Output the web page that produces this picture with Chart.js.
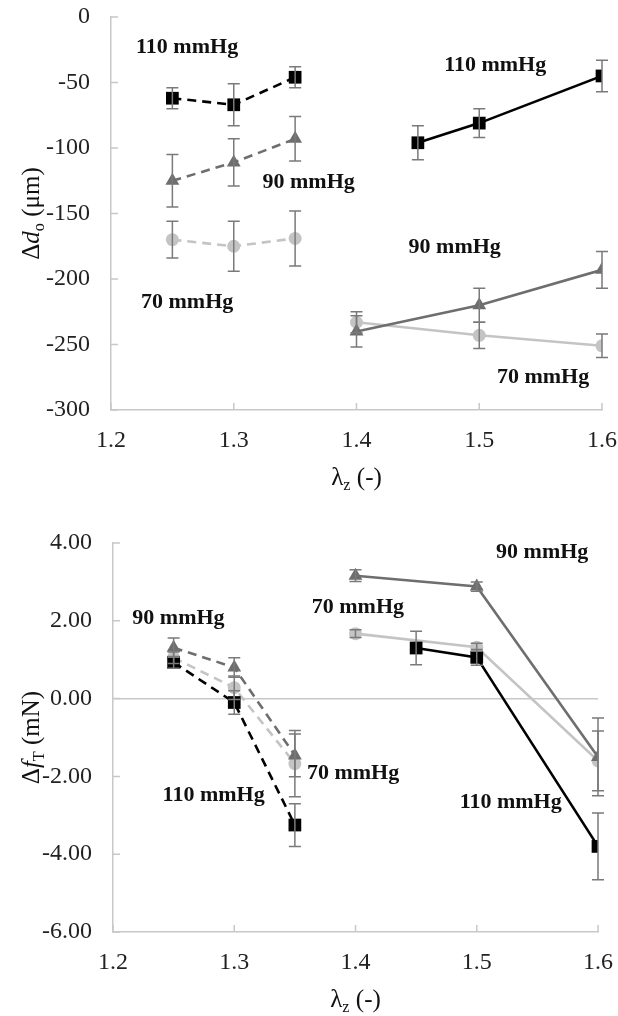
<!DOCTYPE html>
<html>
<head>
<meta charset="utf-8">
<script src="https://cdn.jsdelivr.net/npm/chart.js@4/dist/chart.umd.min.js"></script>
<style>
  body { margin: 0; background: #fff; }
  #wrap { position: relative; width: 618px; height: 1016px; }
  .box { position: absolute; left: 0; width: 618px; height: 508px; }
</style>
</head>
<body>
<div id="wrap">
  <div class="box" style="top:0"><canvas id="topChart" width="618" height="508"></canvas></div>
  <div class="box" style="top:508px"><canvas id="bottomChart" width="618" height="508"></canvas></div>
</div>
<script>
// lambda_z values
const lamDash = [1.25, 1.3, 1.35];
const lamSolid = [1.4, 1.5, 1.6];
const lamSolid110 = [1.45, 1.5, 1.6];

// top panel: change in outer diameter (µm), mean and error
const dd110Dash = [-62, -67, -46];   const dd110DashErr = [8, 16, 8];
const dd90Dash  = [-125, -111, -93]; const dd90DashErr  = [20, 18, 17];
const dd70Dash  = [-170, -175, -169]; const dd70DashErr = [14, 19, 21];
const dd110Solid = [-96, -81, -45];  const dd110SolidErr = [13, 11, 12];
const dd90Solid  = [-240, -220, -193]; const dd90SolidErr = [12, 13, 14];
const dd70Solid  = [-233, -243, -251]; const dd70SolidErr = [8, 10, 9];

// bottom panel: change in transducer force (mN)
const ft110Dash = [0.93, -0.1, -3.25]; const ft110DashErr = [0.15, 0.3, 0.55];
const ft90Dash  = [1.31, 0.8, -1.46];  const ft90DashErr  = [0.25, 0.25, 0.55];
const ft70Dash  = [1.05, 0.28, -1.67]; const ft70DashErr  = [0.15, 0.3, 0.85];
const ft110Solid = [1.3, 1.06, -3.8];  const ft110SolidErr = [0.43, 0.2, 0.86];
const ft90Solid  = [3.16, 2.88, -1.5]; const ft90SolidErr  = [0.15, 0.12, 1.0];
const ft70Solid  = [1.67, 1.32, -1.6]; const ft70SolidErr  = [0.1, 0.1, 0.77];

// pressure notes
const topNoteText = ['110 mmHg', '110 mmHg', '90 mmHg', '90 mmHg', '70 mmHg', '70 mmHg'];
const topNoteX = [1.262, 1.513, 1.361, 1.480, 1.262, 1.552];
const topNoteY = [-23, -37, -126, -176, -218, -275];
const botNoteText = ['90 mmHg', '90 mmHg', '70 mmHg', '70 mmHg', '110 mmHg', '110 mmHg'];
const botNoteX = [1.554, 1.254, 1.402, 1.398, 1.283, 1.528];
const botNoteY = [3.75, 2.06, 2.34, -1.93, -2.49, -2.67];

const SERIF = '"Liberation Serif", "Times New Roman", serif';
const C110 = '#000000', C90 = '#6e6e6e', C70 = '#c4c4c4', AXIS = '#c8c8c8';

function pts(xs, ys) { return xs.map((x, i) => ({ x: x, y: ys[i] })); }

function series(xs, ys, err, color, shape, dashed) {
  return {
    data: pts(xs, ys),
    err: err,
    borderColor: color,
    backgroundColor: color,
    borderWidth: 2.6,
    borderDash: dashed ? [9, 6] : [],
    pointStyle: shape,
    pointRadius: shape === 'rect' ? 9 : (shape === 'triangle' ? 8 : 6.5),
    pointBorderWidth: 0,
    tension: 0
  };
}

// rich text with italic / subscript parts
function richText(ctx, parts, cx, cy, size, rotate) {
  ctx.save();
  ctx.translate(cx, cy);
  if (rotate) ctx.rotate(-Math.PI / 2);
  let total = 0;
  const fonts = parts.map(p => {
    const s = p.sub ? size * 0.65 : size;
    const f = (p.it ? 'italic ' : '') + s + 'px ' + SERIF;
    ctx.font = f;
    total += ctx.measureText(p.t).width;
    return f;
  });
  let x = -total / 2;
  ctx.fillStyle = '#111';
  ctx.textBaseline = 'alphabetic';
  ctx.textAlign = 'left';
  parts.forEach((p, i) => {
    ctx.font = fonts[i];
    ctx.fillText(p.t, x, size * 0.35 + (p.sub ? size * 0.22 : 0));
    x += ctx.measureText(p.t).width;
  });
  ctx.restore();
}

function overlay(noteText, noteX, noteY, yTitle) {
  return {
    id: 'overlay',
    beforeDatasetsDraw(chart) {
      // tick marks pointing into the plot
      const ctx = chart.ctx, xs = chart.scales.x, ys = chart.scales.y, a = chart.chartArea;
      ctx.save();
      ctx.strokeStyle = AXIS;
      ctx.lineWidth = 1.5;
      ctx.beginPath();
      xs.ticks.forEach(t => {
        const px = xs.getPixelForValue(t.value);
        ctx.moveTo(px, a.bottom); ctx.lineTo(px, a.bottom - 7);
      });
      ys.ticks.forEach(t => {
        const py = ys.getPixelForValue(t.value);
        ctx.moveTo(a.left, py); ctx.lineTo(a.left + 7, py);
      });
      ctx.stroke();
      ctx.restore();
    },
    afterDatasetsDraw(chart) {
      const ctx = chart.ctx, xs = chart.scales.x, ys = chart.scales.y;
      // error bars
      ctx.save();
      ctx.strokeStyle = '#7a7a7a';
      ctx.lineWidth = 1.5;
      chart.data.datasets.forEach(ds => {
        ds.data.forEach((p, i) => {
          const e = ds.err[i];
          const px = xs.getPixelForValue(p.x);
          const y1 = ys.getPixelForValue(p.y + e), y2 = ys.getPixelForValue(p.y - e);
          ctx.beginPath();
          ctx.moveTo(px, y1); ctx.lineTo(px, y2);
          ctx.moveTo(px - 6, y1); ctx.lineTo(px + 6, y1);
          ctx.moveTo(px - 6, y2); ctx.lineTo(px + 6, y2);
          ctx.stroke();
        });
      });
      ctx.restore();
      // notes
      ctx.save();
      ctx.font = 'bold 22px ' + SERIF;
      ctx.fillStyle = '#111';
      ctx.textAlign = 'center';
      ctx.textBaseline = 'middle';
      noteText.forEach((t, i) => {
        ctx.fillText(t, xs.getPixelForValue(noteX[i]), ys.getPixelForValue(noteY[i]));
      });
      ctx.restore();
      // axis titles
      const a = chart.chartArea;
      richText(ctx, [{ t: 'λ' }, { t: 'z', sub: true }, { t: ' (-)' }], (a.left + a.right) / 2, a.bottom + 66, 25, false);
      richText(ctx, yTitle, 30, (a.top + a.bottom) / 2, 25, true);
    }
  };
}

function makeChart(id, datasets, yMin, yMax, yStep, yDigits, area, zeroLine, plugin) {
  return new Chart(document.getElementById(id), {
    type: 'line',
    data: { datasets: datasets },
    options: {
      responsive: false,
      animation: false,
      layout: { padding: { top: area.top, right: 618 - area.right, left: 0, bottom: 0 } },
      plugins: { legend: { display: false }, tooltip: { enabled: false } },
      scales: {
        x: {
          type: 'linear', min: 1.2, max: 1.6,
          afterFit: s => { s.height = 508 - area.bottom; s.paddingLeft = 0; s.paddingRight = 0; },
          border: { color: AXIS, width: 1.5 },
          grid: { drawOnChartArea: false, drawTicks: false },
          ticks: { stepSize: 0.1, padding: 16, color: '#222', font: { family: SERIF, size: 24 },
                   callback: v => v.toFixed(1) }
        },
        y: {
          min: yMin, max: yMax,
          afterFit: s => { s.width = area.left; s.paddingTop = 0; s.paddingBottom = 0; },
          border: { color: AXIS, width: 1.5 },
          grid: {
            drawOnChartArea: zeroLine, drawTicks: false, lineWidth: 1.5,
            color: c => (zeroLine && c.tick && c.tick.value === 0) ? AXIS : 'rgba(0,0,0,0)'
          },
          ticks: { stepSize: yStep, padding: 21, color: '#222', font: { family: SERIF, size: 24 },
                   callback: v => v.toFixed(yDigits) }
        }
      }
    },
    plugins: [plugin]
  });
}

makeChart('topChart', [
  series(lamDash, dd110Dash, dd110DashErr, C110, 'rect', true),
  series(lamSolid110, dd110Solid, dd110SolidErr, C110, 'rect', false),
  series(lamDash, dd90Dash, dd90DashErr, C90, 'triangle', true),
  series(lamSolid, dd90Solid, dd90SolidErr, C90, 'triangle', false),
  series(lamDash, dd70Dash, dd70DashErr, C70, 'circle', true),
  series(lamSolid, dd70Solid, dd70SolidErr, C70, 'circle', false)
], -300, 0, 50, 0, { top: 17, bottom: 410, left: 111, right: 602 }, false,
  overlay(topNoteText, topNoteX, topNoteY, [{ t: 'Δ' }, { t: 'd', it: true }, { t: 'o', sub: true }, { t: ' (μm)' }]));

makeChart('bottomChart', [
  series(lamDash, ft110Dash, ft110DashErr, C110, 'rect', true),
  series(lamSolid110, ft110Solid, ft110SolidErr, C110, 'rect', false),
  series(lamDash, ft90Dash, ft90DashErr, C90, 'triangle', true),
  series(lamSolid, ft90Solid, ft90SolidErr, C90, 'triangle', false),
  series(lamDash, ft70Dash, ft70DashErr, C70, 'circle', true),
  series(lamSolid, ft70Solid, ft70SolidErr, C70, 'circle', false)
], -6, 4, 2, 2, { top: 35, bottom: 424, left: 113, right: 598 }, true,
  overlay(botNoteText, botNoteX, botNoteY, [{ t: 'Δ' }, { t: 'f', it: true }, { t: 'T', sub: true }, { t: ' (mN)' }]));
</script>
</body>
</html>
